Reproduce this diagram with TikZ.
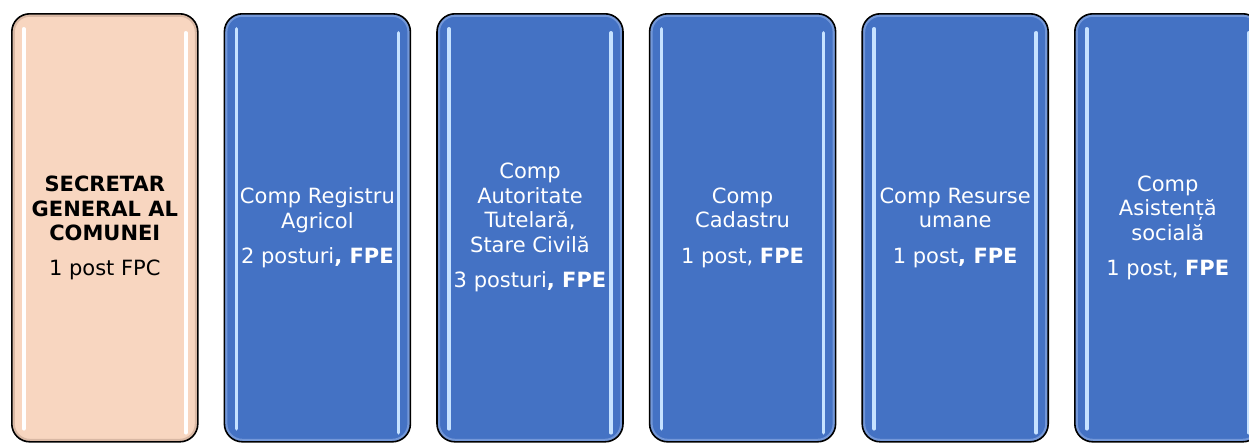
\documentclass[tikz,border=0pt]{standalone}
\usepackage{fontspec}
\setmainfont{DejaVu Sans}
\usetikzlibrary{positioning}

\definecolor{peach}{HTML}{F8D6C0}
\definecolor{boxblue}{HTML}{4472C4}
\definecolor{glintblue}{HTML}{C6E2FF}
\definecolor{rimblue}{HTML}{7397D8}
\definecolor{rimpeach}{HTML}{D9B8A4}

\begin{document}
\begin{tikzpicture}[x=1pt, y=-1pt,
  post/.style = {draw=black, line width=1.6pt, rounded corners=18pt,
    minimum width=186pt, minimum height=428pt, inner sep=0pt,
    align=center, font=\fontsize{21}{24.5}\selectfont},
  shine/.style 2 args = {path picture={
    \draw[#2, line width=6pt, rounded corners=18pt]
      (path picture bounding box.south west) rectangle (path picture bounding box.north east);
    \draw[#1, line width=3.5pt, line cap=round]
      ([xshift=12pt, yshift=-15pt]path picture bounding box.north west) --
      ([xshift=12pt, yshift=13pt]path picture bounding box.south west);
    \draw[#1, line width=3.5pt, line cap=round]
      ([xshift=-12pt, yshift=-19pt]path picture bounding box.north east) --
      ([xshift=-12pt, yshift=9pt]path picture bounding box.south east);}},
  secbox/.style = {post, fill=peach, text=black, shine={white}{rimpeach}},
  compbox/.style = {post, fill=boxblue, text=white, shine={glintblue}{rimblue}},
  node distance = 25pt]
\useasboundingbox (0,0) rectangle (1249,442);

\node[secbox, anchor=north west] (sec) at (11,13)
  {\textbf{SECRETAR}\\ \textbf{GENERAL AL}\\ \textbf{COMUNEI}\\[10pt] 1 post FPC};
\node[compbox, right=of sec] (agr)
  {Comp Registru\\ Agricol\\[11pt] 2 posturi\textbf{, FPE}};
\node[compbox, right=of agr] (tut)
  {Comp\\ Autoritate\\ Tutelară,\\ Stare Civilă\\[11pt] 3 posturi\textbf{, FPE}};
\node[compbox, right=of tut] (cad)
  {Comp\\ Cadastru\\[11pt] 1 post, \textbf{FPE}};
\node[compbox, right=of cad] (res)
  {Comp Resurse\\ umane\\[11pt] 1 post\textbf{, FPE}};
\node[compbox, right=of res] (asi)
  {Comp\\ Asistență\\ socială\\[11pt] 1 post, \textbf{FPE}};
\end{tikzpicture}
\end{document}
